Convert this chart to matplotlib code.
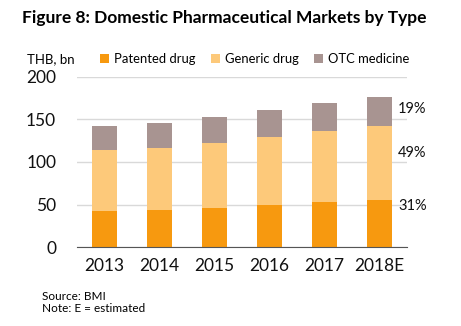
import matplotlib.pyplot as plt
import numpy as np

years = ["2013", "2014", "2015", "2016", "2017", "2018E"]
patented = [42.5, 43.7, 46.0, 49.6, 53.1, 55.4]
generic = [71.5, 72.8, 76.2, 79.7, 83.2, 86.6]
otc = [28.0, 29.2, 30.5, 31.6, 32.7, 34.0]
shares = ["31%", "49%", "19%"]

plt.rcParams['font.family'] = ['Lato', 'DejaVu Sans']

W, H = 461, 326
fig = plt.figure(figsize=(W / 100, H / 100), dpi=100)
# axes placed in pixel coordinates
ax = fig.add_axes([77 / W, 1 - 247.3 / H, 330 / W, (247.3 - 76.7) / H])

x = np.arange(len(years))
c_pat, c_gen, c_otc = '#F7990F', '#FDC97A', '#A89491'
ax.bar(x, patented, width=0.44, color=c_pat, label="Patented drug", zorder=2)
ax.bar(x, generic, width=0.44, bottom=patented, color=c_gen, label="Generic drug", zorder=2)
bottom2 = np.array(patented) + np.array(generic)
ax.bar(x, otc, width=0.44, bottom=bottom2, color=c_otc, label="OTC medicine", zorder=2)

ax.set_xlim(-0.5, len(years) - 0.5)
ax.set_ylim(0, 200)
ax.set_yticks([0, 50, 100, 150, 200])
ax.set_xticks(x)
ax.set_xticklabels(years)
ax.tick_params(axis='both', length=0, labelsize=12.5, colors='#111111')
ax.tick_params(axis='x', pad=8)
ax.tick_params(axis='y', pad=15)
ax.grid(axis='y', color='#D9D9D9', linewidth=1, zorder=0)
for s in ['top', 'right', 'left']:
    ax.spines[s].set_visible(False)
ax.spines['bottom'].set_color('#555555')

# share labels for last bar
last = len(years) - 1
mids = [patented[last] - 7, bottom2[last] - 32, bottom2[last] + otc[last] / 2 + 3]
for m, s in zip(mids, shares):
    ax.text(last + 0.34, m, s, fontsize=10.5, va='center', ha='left', color='#111111')

fig.text(22 / W, 1 - 18 / H, "Figure 8: Domestic Pharmaceutical Markets by Type",
         fontsize=12.5, fontweight='bold', va='center', ha='left')
fig.text(27 / W, 1 - 59 / H, "THB, bn", fontsize=9.5, va='center', ha='left')
fig.legend(loc='center left', bbox_to_anchor=(100 / W, 1 - 59 / H), ncol=3, frameon=False,
           fontsize=9.4, handlelength=0.7, handleheight=0.7, handletextpad=0.35,
           columnspacing=1.2, borderaxespad=0, borderpad=0)
fig.text(42 / W, 1 - 296 / H, "Source: BMI", fontsize=8.5, va='center', ha='left')
fig.text(42 / W, 1 - 309 / H, "Note: E = estimated", fontsize=8.5, va='center', ha='left')

fig.savefig('out.png', dpi=100)
